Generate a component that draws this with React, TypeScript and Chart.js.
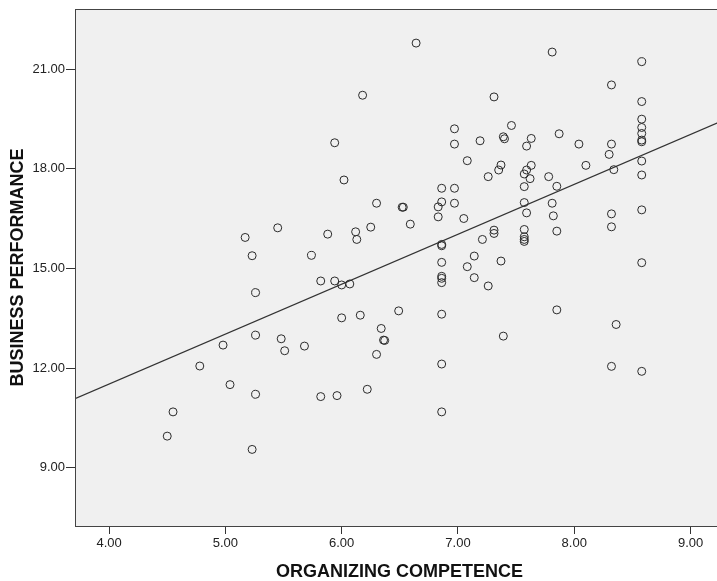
import React, { useEffect, useRef } from 'react';
import { Chart, registerables } from 'chart.js';

Chart.register(...registerables);

// ORGANIZING COMPETENCE (x) and BUSINESS PERFORMANCE (y)
const organizingCompetence = [
  4.50, 4.55, 4.78, 4.98, 5.04, 5.17, 5.23, 5.23, 5.26, 5.26,
  5.26, 5.45, 5.48, 5.51, 5.68, 5.74, 5.82, 5.82, 5.88, 5.94,
  5.94, 5.96, 6.00, 6.00, 6.02, 6.07, 6.12, 6.13, 6.16, 6.18,
  6.22, 6.25, 6.30, 6.30, 6.34, 6.36, 6.37, 6.49, 6.52, 6.53,
  6.59, 6.64, 6.83, 6.83, 6.86, 6.86, 6.86, 6.86, 6.86, 6.86,
  6.86, 6.86, 6.86, 6.86, 6.86, 6.97, 6.97, 6.97, 6.97, 7.05,
  7.08, 7.08, 7.14, 7.14, 7.19, 7.21, 7.26, 7.26, 7.31, 7.31,
  7.31, 7.35, 7.37, 7.37, 7.39, 7.40, 7.39, 7.46, 7.57, 7.57,
  7.57, 7.57, 7.57, 7.57, 7.57, 7.59, 7.59, 7.59, 7.62, 7.63,
  7.63, 7.78, 7.81, 7.81, 7.82, 7.85, 7.85, 7.85, 7.87, 8.04,
  8.10, 8.30, 8.32, 8.32, 8.32, 8.32, 8.32, 8.34, 8.36, 8.58,
  8.58, 8.58, 8.58, 8.58, 8.58, 8.58, 8.58, 8.58, 8.58, 8.58,
  8.58,
];
const businessPerformance = [
  9.95, 10.68, 12.06, 12.69, 11.50, 15.93, 15.38, 9.55, 14.27, 12.99,
  11.21, 16.22, 12.88, 12.52, 12.66, 15.39, 14.62, 11.14, 16.03, 18.78,
  14.62, 11.17, 14.50, 13.51, 17.66, 14.53, 16.10, 15.87, 13.59, 20.21,
  11.36, 16.24, 16.96, 12.41, 13.19, 12.84, 12.83, 13.72, 16.84, 16.84,
  16.33, 21.78, 16.85, 16.55, 17.41, 17.00, 15.72, 15.68, 15.18, 14.76,
  14.70, 14.57, 13.62, 12.12, 10.68, 19.20, 18.74, 17.41, 16.96, 16.50,
  18.24, 15.05, 15.37, 14.72, 18.84, 15.87, 17.76, 14.47, 20.16, 16.15,
  16.05, 17.96, 18.11, 15.22, 18.96, 18.90, 12.96, 19.30, 17.84, 17.46,
  16.98, 16.17, 15.95, 15.87, 15.81, 18.68, 17.96, 16.67, 17.70, 18.91,
  18.10, 17.76, 21.51, 16.96, 16.58, 17.47, 16.12, 13.75, 19.05, 18.74,
  18.10, 18.43, 20.52, 18.74, 16.64, 16.25, 12.05, 17.97, 13.31, 21.22,
  20.02, 19.49, 19.24, 19.06, 18.86, 18.81, 18.23, 17.81, 16.76, 15.17,
  11.90,
];
const xTickValues = [4, 5, 6, 7, 8, 9];
const yTickValues = [9, 12, 15, 18, 21];
const xAxisTitle = 'ORGANIZING COMPETENCE';
const yAxisTitle = 'BUSINESS PERFORMANCE';

const FONT = "'Liberation Sans', Arial, sans-serif";

export default function App() {
  const ref = useRef<HTMLCanvasElement | null>(null);

  useEffect(() => {
    document.body.style.margin = '0';
    const canvas = ref.current;
    if (!canvas) return;

    const points = organizingCompetence.map((x, i) => ({ x, y: businessPerformance[i] }));

    // least-squares fit line
    const n = points.length;
    const mx = organizingCompetence.reduce((a, b) => a + b, 0) / n;
    const my = businessPerformance.reduce((a, b) => a + b, 0) / n;
    let sxy = 0;
    let sxx = 0;
    for (let i = 0; i < n; i++) {
      sxy += (organizingCompetence[i] - mx) * (businessPerformance[i] - my);
      sxx += (organizingCompetence[i] - mx) ** 2;
    }
    const slope = sxy / sxx;
    const intercept = my - slope * mx;

    const xMin = 3.707;
    const xMax = 9.2875;
    const yMin = 7.245;
    const yMax = 22.806;

    const fitLine = [
      { x: xMin, y: intercept + slope * xMin },
      { x: xMax, y: intercept + slope * xMax },
    ];

    const framePlugin = {
      id: 'frame',
      beforeDraw(chart: any) {
        const { ctx, chartArea } = chart;
        ctx.save();
        ctx.fillStyle = '#f0f0f0';
        ctx.fillRect(chartArea.left, chartArea.top, chartArea.right - chartArea.left, chartArea.bottom - chartArea.top);
        ctx.restore();
      },
      afterDraw(chart: any) {
        const { ctx, chartArea } = chart;
        ctx.save();
        ctx.strokeStyle = '#444';
        ctx.lineWidth = 1;
        ctx.strokeRect(
          chartArea.left + 0.5,
          chartArea.top + 0.5,
          chartArea.right - chartArea.left,
          chartArea.bottom - chartArea.top
        );
        ctx.restore();
      },
    };

    const chart = new Chart(canvas, {
      type: 'scatter',
      data: {
        datasets: [
          {
            data: points,
            pointRadius: 4,
            pointHoverRadius: 4,
            borderWidth: 1,
            borderColor: '#2b2b2b',
            backgroundColor: 'rgba(0,0,0,0)',
          },
          {
            data: fitLine,
            showLine: true,
            pointRadius: 0,
            borderWidth: 1.2,
            borderColor: '#333',
            backgroundColor: 'rgba(0,0,0,0)',
            fill: false,
          },
        ],
      },
      options: {
        animation: false,
        responsive: false,
        events: [],
        layout: { padding: { top: 9, left: 0, right: 0, bottom: 0 } },
        plugins: { legend: { display: false }, tooltip: { enabled: false } },
        scales: {
          x: {
            type: 'linear',
            min: xMin,
            max: xMax,
            afterBuildTicks: (s: any) => {
              s.ticks = xTickValues.map((v) => ({ value: v }));
            },
            afterFit: (s: any) => {
              s.height = 55;
              s.paddingLeft = 0;
              s.paddingRight = 0;
            },
            ticks: {
              callback: (v: any) => Number(v).toFixed(2),
              font: { family: FONT, size: 13 },
              color: '#222',
              padding: 2,
              maxRotation: 0,
            },
            grid: { drawOnChartArea: false, drawTicks: true, tickLength: 8, color: '#333' },
            border: { display: false },
            title: {
              display: true,
              text: xAxisTitle,
              font: { family: FONT, size: 18, weight: 'bold', lineHeight: 1 },
              color: '#111',
              padding: { top: 0, bottom: 0 },
            },
          },
          y: {
            type: 'linear',
            min: yMin,
            max: yMax,
            afterBuildTicks: (s: any) => {
              s.ticks = yTickValues.map((v) => ({ value: v }));
            },
            afterFit: (s: any) => {
              s.width = 75;
              s.paddingTop = 0;
              s.paddingBottom = 0;
            },
            ticks: {
              callback: (v: any) => Number(v).toFixed(2),
              font: { family: FONT, size: 13 },
              color: '#222',
              padding: 1,
            },
            grid: { drawOnChartArea: false, drawTicks: true, tickLength: 9, color: '#333' },
            border: { display: false },
            title: {
              display: true,
              text: yAxisTitle,
              font: { family: FONT, size: 18, weight: 'bold', lineHeight: 1 },
              color: '#111',
              padding: { top: 9.5, bottom: 0 },
            },
          },
        },
      },
      plugins: [framePlugin],
    } as any);

    return () => chart.destroy();
  }, []);

  return (
    <div style={{ width: 717, height: 581, overflow: 'hidden' }}>
      <canvas ref={ref} width={729} height={581} style={{ display: 'block' }} />
    </div>
  );
}
